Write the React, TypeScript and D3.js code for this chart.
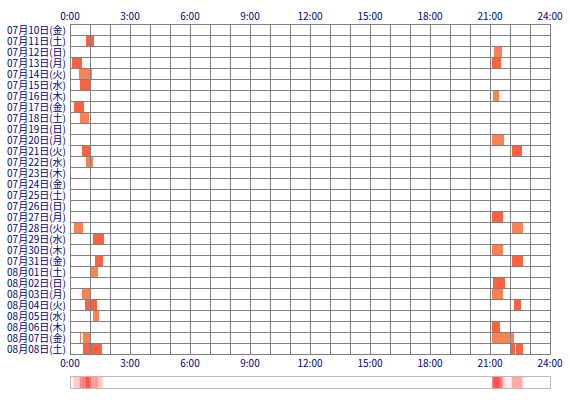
import { useEffect, useRef } from "react"
import * as d3 from "d3"

const dayLabels = [
  "07月10日(金)", "07月11日(土)", "07月12日(日)", "07月13日(月)", "07月14日(火)",
  "07月15日(水)", "07月16日(木)", "07月17日(金)", "07月18日(土)", "07月19日(日)",
  "07月20日(月)", "07月21日(火)", "07月22日(水)", "07月23日(木)", "07月24日(金)",
  "07月25日(土)", "07月26日(日)", "07月27日(月)", "07月28日(火)", "07月29日(水)",
  "07月30日(木)", "07月31日(金)", "08月01日(土)", "08月02日(日)", "08月03日(月)",
  "08月04日(火)", "08月05日(水)", "08月06日(木)", "08月07日(金)", "08月08日(土)",
]

const hourTicks = [0, 3, 6, 9, 12, 15, 18, 21, 24]
const tickLabels = ["0:00", "3:00", "6:00", "9:00", "12:00", "15:00", "18:00", "21:00", "24:00"]

// [row, start hour, end hour, kind] kind 0 = red, 1 = orange
const sessions: [number, number, number, number][] = [
  [1, 0.8, 1.2, 0],
  [2, 21.2, 21.6, 1],
  [3, 0.1, 0.6, 0],
  [3, 21.1, 21.55, 0],
  [4, 0.45, 1.1, 1],
  [5, 0.5, 1.0, 0],
  [6, 21.15, 21.45, 1],
  [7, 0.2, 0.7, 0],
  [8, 0.5, 0.95, 1],
  [10, 21.1, 21.7, 1],
  [11, 0.6, 1.05, 0],
  [11, 22.1, 22.6, 0],
  [12, 0.8, 1.15, 1],
  [17, 21.1, 21.65, 0],
  [18, 0.2, 0.65, 1],
  [18, 22.1, 22.65, 1],
  [19, 1.15, 1.7, 0],
  [20, 21.1, 21.65, 1],
  [21, 1.25, 1.65, 0],
  [21, 22.1, 22.65, 0],
  [22, 1.05, 1.4, 1],
  [23, 21.15, 21.75, 0],
  [24, 0.6, 1.05, 1],
  [24, 21.1, 21.65, 1],
  [25, 0.75, 1.35, 0],
  [25, 22.2, 22.55, 0],
  [26, 1.15, 1.45, 1],
  [27, 21.1, 21.5, 0],
  [28, 0.5, 0.55, 1],
  [28, 0.65, 1.05, 1],
  [28, 21.1, 22.2, 1],
  [29, 0.65, 1.6, 0],
  [29, 22.05, 22.25, 0],
  [29, 22.3, 22.65, 0],
]

const kindColors = ["#ff6040", "#ff8050"]

export default function App() {
  const ref = useRef<SVGSVGElement>(null)

  useEffect(() => {
    if (!ref.current) return
    const svg = d3.select(ref.current)
    svg.selectAll("*").remove()

    const left = 70, right = 550, top = 24, rowH = 11
    const bottom = top + rowH * dayLabels.length
    const font = "'Noto Sans CJK JP', sans-serif"
    const navy = "#000080"

    const x = d3.scaleLinear().domain([0, 24]).range([left, right])
    const y = d3.scaleBand<number>().domain(d3.range(dayLabels.length)).range([top, bottom])

    svg.append("rect").attr("width", 570).attr("height", 400).attr("fill", "#fff")

    // bars
    svg.append("g").selectAll("rect").data(sessions).join("rect")
      .attr("x", d => Math.round(x(d[1])))
      .attr("width", d => Math.max(1, Math.round(x(d[2])) - Math.round(x(d[1]))))
      .attr("y", d => y(d[0])! + 1)
      .attr("height", rowH - 1)
      .attr("fill", d => kindColors[d[3]])

    // grid
    const grid = svg.append("g").attr("stroke", "#808080").attr("stroke-width", 1)
    grid.selectAll("line.v").data(d3.range(25)).join("line")
      .attr("class", "v")
      .attr("x1", d => x(d) + 0.5).attr("x2", d => x(d) + 0.5)
      .attr("y1", top).attr("y2", bottom + 1)
    grid.selectAll("line.h").data(d3.range(dayLabels.length + 1)).join("line")
      .attr("class", "h")
      .attr("x1", left).attr("x2", right + 1)
      .attr("y1", d => top + d * rowH + 0.5).attr("y2", d => top + d * rowH + 0.5)

    // day labels
    svg.append("g").selectAll("text").data(dayLabels).join("text")
      .attr("x", 66)
      .attr("y", (_, i) => y(i)! + rowH / 2 + 4)
      .attr("text-anchor", "end")
      .attr("fill", navy)
      .style("font-family", font)
      .style("font-size", "10px")
      .text(d => d)

    // hour labels top and bottom
    ;[20, 367].forEach(ty => {
      svg.append("g").selectAll("text").data(hourTicks).join("text")
        .attr("x", d => x(d))
        .attr("y", ty)
        .attr("text-anchor", "middle")
        .attr("fill", navy)
        .style("font-family", font)
        .style("font-size", "10px")
        .text((_, i) => tickLabels[i])
    })

    // density strip
    const step = 0.05
    const bins = d3.range(0, 24, step).map(h => {
      const mid = h + step / 2
      return { h, n: sessions.filter(s => s[1] <= mid && s[2] >= mid).length }
    })
    const maxN = d3.max(bins, b => b.n) || 1
    const heat = d3.scaleLinear<string>().domain([0, maxN]).range(["#ffffff", "#ff5050"])
    const sy = 376
    svg.append("g").selectAll("rect").data(bins.filter(b => b.n > 0)).join("rect")
      .attr("x", d => x(d.h))
      .attr("width", x(step) - x(0) + 0.2)
      .attr("y", sy)
      .attr("height", 12)
      .attr("fill", d => heat(d.n))
    svg.append("rect")
      .attr("x", left + 0.5).attr("y", sy + 0.5)
      .attr("width", right - left).attr("height", 12)
      .attr("fill", "none")
      .attr("stroke", "#bbbbbb")
  }, [])

  return (
    <svg ref={ref} width={570} height={400}
      style={{ position: "absolute", left: 0, top: 0, display: "block" }} />
  )
}
